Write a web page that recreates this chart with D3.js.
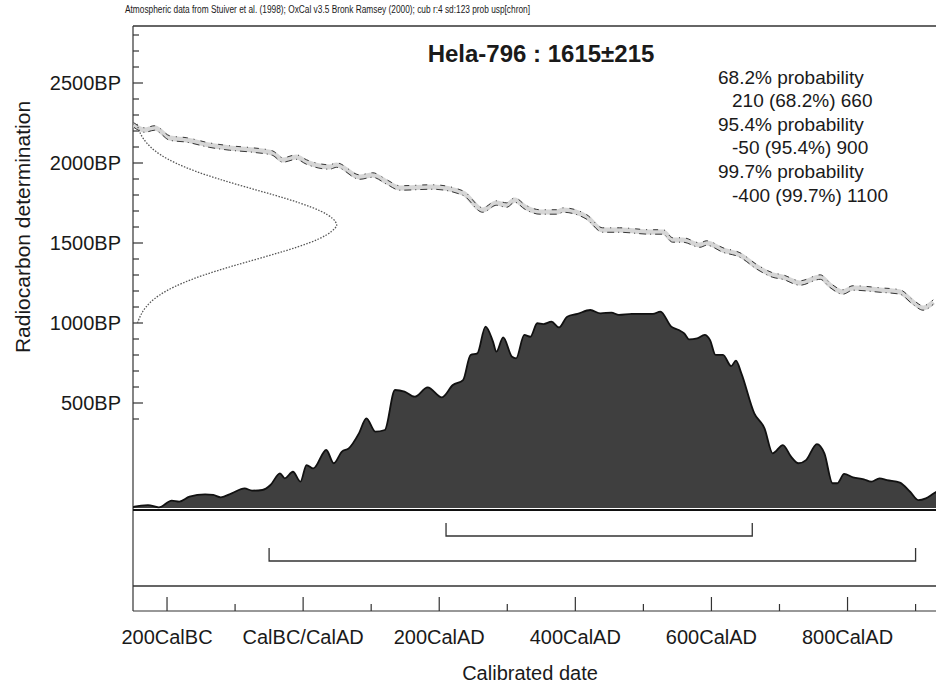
<!DOCTYPE html>
<html><head><meta charset="utf-8">
<script src="https://cdn.jsdelivr.net/npm/d3@7"></script>
<style>body{margin:0;background:#fff}svg{display:block}text{font-family:"Liberation Sans",Arial,sans-serif;fill:#1a1a1a}</style>
</head><body><div id="chart"></div>
<script>
// ---- data ----
const headerText = "Atmospheric data from Stuiver et al. (1998); OxCal v3.5 Bronk Ramsey (2000); cub r:4 sd:123 prob usp[chron]";
const titleText = "Hela-796 : 1615±215";
const legendLines = ["68.2% probability", "210 (68.2%) 660", "95.4% probability", "-50 (95.4%) 900", "99.7% probability", "-400 (99.7%) 1100"];
const legendIndent = [0, 1, 0, 1, 0, 1];

const yTickValues = [500, 1000, 1500, 2000, 2500];
const yTickLabels = ["500BP", "1000BP", "1500BP", "2000BP", "2500BP"];
const yMinorTicks = [400,600,700,800,900,1100,1200,1300,1400,1600,1700,1800,1900,2100,2200,2300,2400,2600,2700,2800];

const xTickValues = [-200, 0, 200, 400, 600, 800];
const xTickLabels = ["200CalBC", "CalBC/CalAD", "200CalAD", "400CalAD", "600CalAD", "800CalAD"];
const xMinorTicks = [-100, 100, 300, 500, 700, 900];

// calibration curve (cal year, BP)
const calYears = [-249,-233,-218,-196,-171,-138,-108,-74,-45,-30,-10,5,39,49,83,102,123,142,190,235,264,284,299,311,326,348,373,382,417,440,465,510,529,543,558,583,593,617,642,667,690,705,730,760,774,793,808,848,877,896,911,926];
const calBP    = [2238,2206,2219,2156,2144,2112,2094,2081,2062,2019,2037,2006,1975,1987,1912,1925,1881,1844,1850,1812,1706,1750,1737,1769,1725,1694,1694,1706,1662,1581,1581,1569,1569,1519,1519,1487,1500,1456,1425,1350,1300,1287,1250,1287,1237,1194,1219,1206,1194,1131,1094,1131];
const calSigma = 14;

// radiocarbon measurement distribution (BP, relative density)
const gaussBP  = [1000,1050,1100,1150,1200,1250,1300,1350,1400,1450,1500,1550,1600,1615,1650,1700,1750,1800,1850,1900,1950,2000,2050,2100,2150,2200,2250];
const gaussDen = [0.017,0.032,0.057,0.096,0.155,0.237,0.342,0.468,0.607,0.745,0.867,0.955,0.998,1.0,0.987,0.925,0.821,0.691,0.550,0.415,0.297,0.201,0.129,0.079,0.045,0.025,0.013];

// calibrated probability (cal year, relative probability)
const probYears = [-251,-248,-228,-212,-193,-182,-167,-144,-132,-121,-105,-86,-75,-60,-48,-34,-27,-15,-4,5,15,34,45,57,67,82,93,106,120,135,149,164,183,204,220,235,246,256,268,279,284,294,307,313,325,334,344,353,365,376,388,403,422,437,453,464,483,499,514,525,541,552,560,567,579,590,598,606,617,629,636,644,663,678,690,705,717,728,739,755,766,778,785,795,808,824,835,847,858,877,892,904,915,927,935];
const probVals  = [0,0.007,0.015,0.003,0.037,0.032,0.057,0.069,0.066,0.054,0.074,0.099,0.088,0.091,0.116,0.175,0.150,0.183,0.133,0.217,0.200,0.293,0.226,0.285,0.301,0.377,0.453,0.386,0.394,0.596,0.588,0.562,0.609,0.559,0.621,0.646,0.773,0.781,0.916,0.840,0.790,0.862,0.764,0.756,0.874,0.865,0.933,0.929,0.941,0.912,0.966,0.980,1.000,0.983,0.987,0.975,0.980,0.980,0.980,0.992,0.916,0.899,0.882,0.852,0.857,0.874,0.848,0.773,0.773,0.717,0.744,0.680,0.478,0.402,0.276,0.318,0.259,0.226,0.242,0.323,0.276,0.125,0.125,0.172,0.155,0.145,0.133,0.150,0.141,0.128,0.082,0.040,0.049,0.074,0.09];

// ranges
const rangeFrom = [210, -50, -400];
const rangeTo   = [660, 900, 1100];

// ---- drawing ----
const W = 936, H = 686;
const svg = d3.select("#chart").append("svg").attr("width", W).attr("height", H);
svg.append("rect").attr("width", W).attr("height", H).attr("fill", "#fff");

const pL = 133, pR = 936, pT = 26, pBase = 510;
const x = d3.scaleLinear().domain([-250, 930]).range([pL, pR]);
const y = d3.scaleLinear().domain([2500, 500]).range([83, 403]);
const yp = d3.scaleLinear().domain([0, 1]).range([508, 310]);
const xd = d3.scaleLinear().domain([0, 1]).range([pL + 1, 337]);

svg.append("defs").append("clipPath").attr("id", "clip")
  .append("rect").attr("x", pL).attr("y", pT).attr("width", pR - pL).attr("height", 600 - pT);

// header
svg.append("text").attr("x", 125).attr("y", 13).attr("font-size", 10)
  .attr("textLength", 405).attr("lengthAdjust", "spacingAndGlyphs").text(headerText);

// frame
svg.append("line").attr("x1", pL).attr("x2", pR).attr("y1", pT).attr("y2", pT).attr("stroke", "#333").attr("stroke-width", 1.5);
svg.append("line").attr("x1", pL).attr("x2", pL).attr("y1", pT).attr("y2", 611).attr("stroke", "#333").attr("stroke-width", 1.2);

// title
svg.append("text").attr("x", 541).attr("y", 62).attr("text-anchor", "middle")
  .attr("font-size", 24).attr("font-weight", "bold").text(titleText);

// legend
svg.append("g").selectAll("text").data(legendLines).join("text")
  .attr("x", (d, i) => 718 + legendIndent[i] * 14)
  .attr("y", (d, i) => 77 + i * 23.6)
  .attr("dominant-baseline", "central")
  .attr("font-size", 19).text(d => d);

// y axis ticks
const yAx = svg.append("g");
yAx.selectAll("line.maj").data(yTickValues).join("line").attr("class", "maj")
  .attr("x1", pL).attr("x2", pL + 10).attr("y1", d => y(d)).attr("y2", d => y(d))
  .attr("stroke", "#333").attr("stroke-width", 1.2);
yAx.selectAll("line.min").data(yMinorTicks).join("line").attr("class", "min")
  .attr("x1", pL).attr("x2", pL + 6).attr("y1", d => y(d)).attr("y2", d => y(d))
  .attr("stroke", "#333").attr("stroke-width", 1.2);
yAx.selectAll("text").data(yTickValues).join("text")
  .attr("x", 121).attr("y", d => y(d)).attr("text-anchor", "end")
  .attr("dominant-baseline", "central").attr("font-size", 20)
  .text((d, i) => yTickLabels[i]);
svg.append("text").attr("transform", "translate(22,227) rotate(-90)")
  .attr("text-anchor", "middle").attr("dominant-baseline", "central")
  .attr("font-size", 21).text("Radiocarbon determination");

const plot = svg.append("g").attr("clip-path", "url(#clip)");

// calibrated distribution
const area = d3.area().x((d, i) => x(probYears[i])).y0(yp(0)).y1((d, i) => yp(probVals[i])).curve(d3.curveMonotoneX);
plot.append("path").datum(probVals).attr("d", area).attr("fill", "#3f3f3f");
const edge = d3.line().x((d, i) => x(probYears[i])).y((d, i) => yp(probVals[i])).curve(d3.curveMonotoneX);
plot.append("path").datum(probVals).attr("d", edge).attr("fill", "none").attr("stroke", "#111").attr("stroke-width", 1.8);

// calibration curve
const calLine = off => d3.line().x((d, i) => x(calYears[i])).y((d, i) => y(calBP[i] + off)).curve(d3.curveMonotoneX);
plot.append("path").datum(calBP).attr("d", calLine(0)).attr("fill", "none").attr("stroke", "#d6d6d6").attr("stroke-width", 5);
[calSigma, -calSigma].forEach((off, k) => {
  plot.append("path").datum(calBP).attr("d", calLine(off)).attr("fill", "none")
    .attr("stroke", "#222").attr("stroke-width", 0.9)
    .attr("stroke-dasharray", k ? "7,4,1,4" : "5,6,1,6");
});

// measurement gaussian
const gLine = d3.line().x((d, i) => xd(gaussDen[i])).y((d, i) => y(gaussBP[i])).curve(d3.curveBasis);
plot.append("path").datum(gaussDen).attr("d", gLine).attr("fill", "none")
  .attr("stroke", "#555").attr("stroke-width", 1.3).attr("stroke-dasharray", "1.5,1.5");

// baseline
svg.append("line").attr("x1", pL).attr("x2", pR).attr("y1", pBase).attr("y2", pBase).attr("stroke", "#111").attr("stroke-width", 2);

// range brackets
const rangeY = [536, 561, 586];
const rg = plot.append("g");
rangeFrom.forEach((f, i) => {
  const t = rangeTo[i], yy = rangeY[i];
  rg.append("path")
    .attr("d", `M${x(f)},${yy - 13}V${yy}H${x(t)}V${yy - 13}`)
    .attr("fill", "none").attr("stroke", "#333").attr("stroke-width", 1.3);
});

// x axis
const xAxY = 611;
svg.append("line").attr("x1", pL).attr("x2", pR).attr("y1", xAxY).attr("y2", xAxY).attr("stroke", "#333").attr("stroke-width", 1.2);
svg.append("g").selectAll("line").data(xTickValues).join("line")
  .attr("x1", d => x(d)).attr("x2", d => x(d)).attr("y1", xAxY).attr("y2", xAxY - 14)
  .attr("stroke", "#333").attr("stroke-width", 1.2);
svg.append("g").selectAll("line").data(xMinorTicks).join("line")
  .attr("x1", d => x(d)).attr("x2", d => x(d)).attr("y1", xAxY).attr("y2", xAxY - 7)
  .attr("stroke", "#333").attr("stroke-width", 1.2);
svg.append("g").selectAll("text").data(xTickValues).join("text")
  .attr("x", d => x(d)).attr("y", 637).attr("text-anchor", "middle")
  .attr("dominant-baseline", "central").attr("font-size", 20)
  .text((d, i) => xTickLabels[i]);
svg.append("text").attr("x", 530).attr("y", 673).attr("text-anchor", "middle")
  .attr("dominant-baseline", "central").attr("font-size", 20).text("Calibrated date");
</script></body></html>
